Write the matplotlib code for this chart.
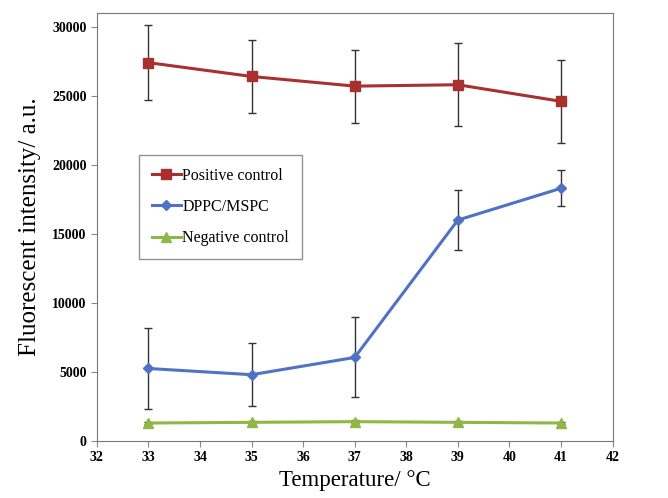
import matplotlib
matplotlib.use("Agg")
import matplotlib.pyplot as plt
from matplotlib.lines import Line2D

temps = [33, 35, 37, 39, 41]
positive = [27400, 26400, 25700, 25800, 24600]
positive_err = [2700, 2650, 2650, 3000, 3000]
dppc = [5250, 4800, 6050, 16000, 18300]
dppc_err = [2900, 2300, 2900, 2200, 1300]
negative = [1300, 1350, 1400, 1350, 1300]
negative_err = [100, 100, 100, 100, 100]

plt.rcParams["font.family"] = ["Liberation Serif", "DejaVu Serif"]

fig = plt.figure(figsize=(6.68, 4.98), dpi=100)
ax = fig.add_axes([0.145, 0.1145, 0.772, 0.8595])

series = [
    ("Positive control", positive, positive_err, "#A8302E", "s", 7),
    ("DPPC/MSPC", dppc, dppc_err, "#4F72C4", "D", 5),
    ("Negative control", negative, negative_err, "#8DB843", "^", 7),
]
handles = []
for label, vals, err, color, marker, ms in series:
    ax.errorbar(temps, vals, yerr=err, color=color, lw=2.2, marker=marker,
                ms=ms, ecolor="#333333", elinewidth=1, capsize=3, capthick=1,
                zorder=3)
    handles.append(Line2D([], [], color=color, lw=2.2, marker=marker, ms=ms,
                          label=label))

ax.set_xlim(32, 42)
ax.set_ylim(0, 31000)
ax.set_xticks(range(32, 43))
ax.set_yticks(range(0, 30001, 5000))
ax.tick_params(direction="out", length=4, color="#888888", labelsize=10)
for lab in ax.get_xticklabels() + ax.get_yticklabels():
    lab.set_fontweight("bold")
for sp in ax.spines.values():
    sp.set_color("#777777")

ax.set_xlabel("Temperature/ \u00b0C", fontsize=16.5, labelpad=4)
ax.set_ylabel("Fluorescent intensity/ a.u.", fontsize=18, labelpad=8)

leg = ax.legend(handles=handles, loc="upper left", bbox_to_anchor=(0.082, 0.668),
                borderaxespad=0, fontsize=11.5, frameon=True, fancybox=False,
                edgecolor="#777777", handlelength=1.8, handletextpad=0.1,
                labelspacing=0.95, borderpad=0.8)
leg.get_frame().set_linewidth(1)

fig.savefig("out.png", dpi=100)
